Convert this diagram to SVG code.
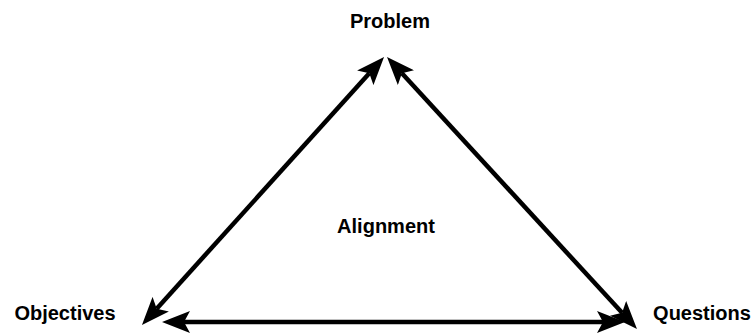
<svg xmlns="http://www.w3.org/2000/svg" width="754" height="334" viewBox="0 0 754 334">
<style>
.lbl{font-family:"Liberation Sans",Arial,sans-serif;font-weight:bold;font-size:20px;fill:#000;text-anchor:middle}
.ln{stroke:#000;stroke-width:4.5;fill:none;marker-start:url(#ah);marker-end:url(#ah)}
</style>
<defs>
<marker id="ah" markerUnits="userSpaceOnUse" viewBox="0 0 28 22" refX="6" refY="11" markerWidth="28" markerHeight="22" orient="auto-start-reverse">
<path d="M0,0 L28,11 L0,22 L6,11 Z" fill="#000"/>
</marker>
</defs>
<g id="connectors">
<line class="ln" x1="369.3" y1="73.3" x2="156.7" y2="308.7"/>
<line class="ln" x1="401.9" y1="73.2" x2="622.1" y2="312.8"/>
<line class="ln" x1="184" y1="322" x2="603" y2="322"/>
</g>
<g id="problem"><text class="lbl" x="390" y="28">Problem</text></g>
<g id="objectives"><text class="lbl" x="65" y="320">Objectives</text></g>
<g id="questions"><text class="lbl" x="702" y="320">Questions</text></g>
<g id="alignment"><text class="lbl" x="386" y="233">Alignment</text></g>
</svg>
